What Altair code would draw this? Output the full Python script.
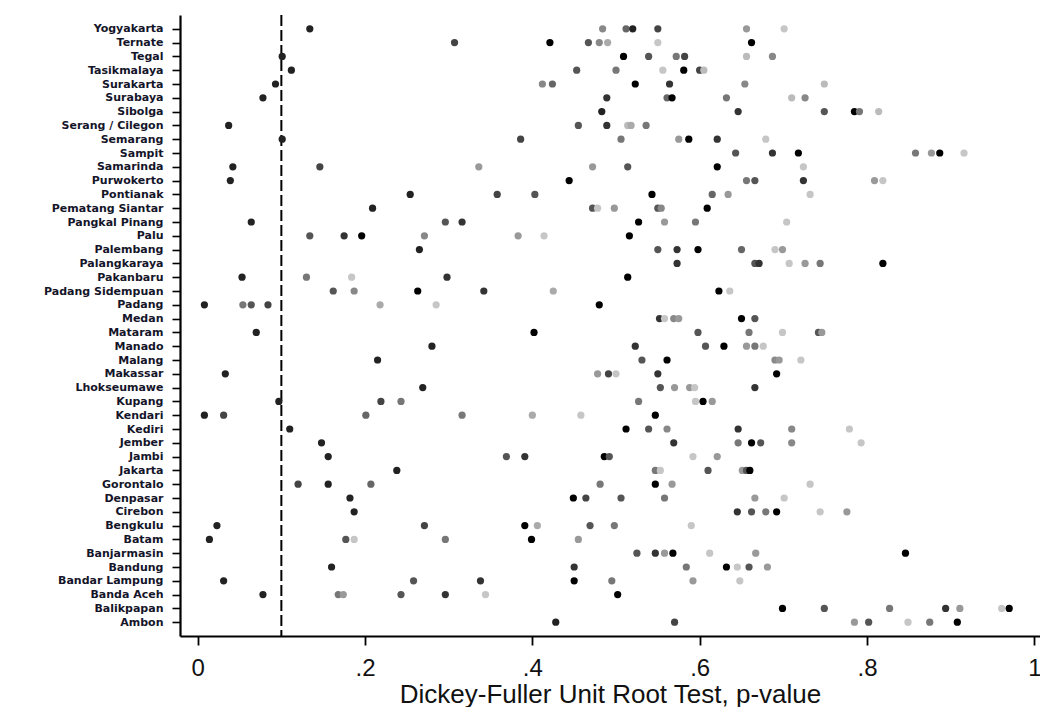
import altair as alt
import pandas as pd

cities = [
    "Yogyakarta", "Ternate", "Tegal", "Tasikmalaya", "Surakarta", "Surabaya",
    "Sibolga", "Serang / Cilegon", "Semarang", "Sampit", "Samarinda",
    "Purwokerto", "Pontianak", "Pematang Siantar", "Pangkal Pinang", "Palu",
    "Palembang", "Palangkaraya", "Pakanbaru", "Padang Sidempuan", "Padang",
    "Medan", "Mataram", "Manado", "Malang", "Makassar", "Lhokseumawe",
    "Kupang", "Kendari", "Kediri", "Jember", "Jambi", "Jakarta", "Gorontalo",
    "Denpasar", "Cirebon", "Bengkulu", "Batam", "Banjarmasin", "Bandung",
    "Bandar Lampung", "Banda Aceh", "Balikpapan", "Ambon",
]

# p-values per city (same order as cities)
pvalues = [
    [0.134, 0.484, 0.512, 0.520, 0.550, 0.656, 0.701],
    [0.307, 0.421, 0.467, 0.480, 0.490, 0.550, 0.662],
    [0.101, 0.509, 0.539, 0.572, 0.582, 0.656, 0.687],
    [0.112, 0.453, 0.500, 0.556, 0.581, 0.600, 0.605],
    [0.093, 0.412, 0.424, 0.523, 0.564, 0.654, 0.749],
    [0.078, 0.489, 0.561, 0.567, 0.632, 0.710, 0.726],
    [0.483, 0.646, 0.749, 0.785, 0.791, 0.814],
    [0.037, 0.455, 0.489, 0.514, 0.518, 0.536],
    [0.101, 0.386, 0.506, 0.575, 0.587, 0.621, 0.679],
    [0.643, 0.687, 0.718, 0.858, 0.877, 0.887, 0.916],
    [0.042, 0.146, 0.336, 0.472, 0.514, 0.621, 0.724],
    [0.039, 0.444, 0.656, 0.666, 0.724, 0.809, 0.819],
    [0.254, 0.358, 0.403, 0.543, 0.615, 0.634, 0.732],
    [0.209, 0.472, 0.478, 0.498, 0.550, 0.554, 0.609],
    [0.064, 0.296, 0.316, 0.527, 0.558, 0.595, 0.704],
    [0.134, 0.175, 0.196, 0.271, 0.383, 0.414, 0.516],
    [0.265, 0.550, 0.573, 0.598, 0.650, 0.690, 0.699],
    [0.573, 0.666, 0.671, 0.707, 0.726, 0.744, 0.819],
    [0.053, 0.130, 0.184, 0.298, 0.514],
    [0.162, 0.187, 0.263, 0.342, 0.425, 0.623, 0.636],
    [0.008, 0.054, 0.064, 0.084, 0.218, 0.285, 0.480],
    [0.552, 0.558, 0.569, 0.575, 0.650, 0.666],
    [0.070, 0.402, 0.598, 0.659, 0.699, 0.742, 0.746],
    [0.280, 0.523, 0.607, 0.629, 0.656, 0.666, 0.676],
    [0.215, 0.531, 0.561, 0.690, 0.695, 0.721],
    [0.033, 0.478, 0.491, 0.500, 0.550, 0.692],
    [0.269, 0.553, 0.570, 0.588, 0.594, 0.666],
    [0.097, 0.219, 0.243, 0.527, 0.595, 0.604, 0.615],
    [0.008, 0.031, 0.201, 0.316, 0.400, 0.458, 0.547],
    [0.110, 0.512, 0.539, 0.561, 0.646, 0.710, 0.779],
    [0.148, 0.569, 0.646, 0.662, 0.673, 0.710, 0.793],
    [0.156, 0.369, 0.391, 0.486, 0.492, 0.592, 0.621],
    [0.238, 0.547, 0.553, 0.610, 0.651, 0.656, 0.660],
    [0.120, 0.156, 0.207, 0.481, 0.547, 0.567, 0.732],
    [0.182, 0.449, 0.464, 0.506, 0.558, 0.666, 0.701],
    [0.187, 0.645, 0.662, 0.679, 0.692, 0.744, 0.776],
    [0.023, 0.271, 0.391, 0.406, 0.469, 0.498, 0.590],
    [0.014, 0.177, 0.187, 0.296, 0.399, 0.455],
    [0.525, 0.547, 0.558, 0.568, 0.612, 0.667, 0.846],
    [0.160, 0.450, 0.584, 0.632, 0.645, 0.659, 0.681],
    [0.031, 0.258, 0.338, 0.450, 0.495, 0.592, 0.648],
    [0.078, 0.168, 0.174, 0.243, 0.296, 0.344, 0.502],
    [0.699, 0.749, 0.827, 0.894, 0.911, 0.961, 0.970],
    [0.428, 0.570, 0.785, 0.802, 0.849, 0.875, 0.908],
]

# grey level of each point (0 = black ... 11 = lightest grey)
shades = [
    [1, 7, 5, 1, 3, 8, 11],
    [3, 0, 4, 7, 9, 11, 0],
    [1, 0, 4, 6, 3, 10, 7],
    [1, 4, 6, 11, 0, 3, 10],
    [1, 7, 5, 0, 2, 7, 10],
    [1, 2, 5, 0, 6, 10, 7],
    [1, 2, 4, 0, 6, 10],
    [1, 4, 2, 10, 9, 6],
    [1, 3, 6, 8, 0, 2, 11],
    [4, 2, 0, 6, 8, 0, 11],
    [1, 3, 8, 8, 4, 0, 11],
    [1, 0, 6, 4, 2, 8, 11],
    [1, 3, 4, 0, 5, 8, 11],
    [1, 4, 11, 8, 4, 7, 0],
    [1, 4, 2, 0, 8, 6, 11],
    [4, 2, 0, 7, 8, 11, 0],
    [1, 4, 2, 0, 5, 11, 8],
    [2, 4, 2, 11, 8, 6, 0],
    [1, 6, 11, 2, 0],
    [4, 7, 0, 2, 9, 0, 11],
    [1, 6, 4, 3, 9, 11, 0],
    [2, 11, 7, 8, 0, 4],
    [1, 0, 4, 6, 11, 4, 8],
    [1, 2, 4, 0, 8, 6, 11],
    [1, 4, 0, 7, 8, 11],
    [1, 8, 3, 11, 2, 0],
    [1, 4, 8, 8, 11, 2],
    [1, 3, 6, 6, 11, 0, 8],
    [1, 3, 5, 6, 9, 11, 0],
    [1, 0, 4, 7, 2, 7, 11],
    [1, 2, 6, 0, 4, 7, 11],
    [1, 4, 2, 0, 4, 11, 8],
    [1, 6, 11, 4, 8, 4, 0],
    [3, 1, 5, 6, 0, 8, 11],
    [1, 0, 3, 4, 6, 8, 11],
    [1, 2, 4, 6, 0, 11, 8],
    [1, 3, 0, 9, 4, 6, 11],
    [1, 4, 11, 6, 0, 8],
    [4, 2, 8, 0, 11, 8, 0],
    [1, 2, 6, 0, 11, 4, 8],
    [1, 4, 2, 0, 6, 8, 11],
    [1, 6, 8, 4, 2, 11, 0],
    [0, 4, 6, 2, 8, 11, 0],
    [1, 3, 8, 4, 11, 6, 0],
]

x_ticks = [0, 0.2, 0.4, 0.6, 0.8, 1.0]
threshold = 0.1

rows = []
for city, vals, shs in zip(cities, pvalues, shades):
    for v, s in zip(vals, shs):
        rows.append({"city": city, "p": v, "shade": s})
df = pd.DataFrame(rows)

grey_levels = ["#000000", "#222222", "#333333", "#444444", "#555555", "#666666",
               "#777777", "#888888", "#999999", "#aaaaaa", "#bbbbbb", "#c6c6c6"]

xscale = alt.Scale(domain=[-0.02116, 1.00681], nice=False, zero=False)

points = alt.Chart(df).mark_circle(size=52, opacity=1).encode(
    x=alt.X("p:Q", scale=xscale,
            title="Dickey-Fuller Unit Root Test, p-value",
            axis=alt.Axis(values=x_ticks, grid=False,
                          labelExpr="datum.value == 0 ? '0' : datum.value == 1 ? '1' : replace(format(datum.value, '.1f'), '0.', '.')",
                          labelFont="Liberation Sans", labelFontSize=24,
                          labelColor="#111111", labelPadding=11,
                          titleFont="Liberation Sans", titleFontSize=26,
                          titleFontWeight="normal", titleColor="#111111",
                          titlePadding=1,
                          tickSize=9, tickWidth=1.8, tickColor="black",
                          domainColor="black", domainWidth=2.2)),
    y=alt.Y("city:N", sort=cities, title=None,
            scale=alt.Scale(type="point", padding=1.07),
            axis=alt.Axis(labelFont="DejaVu Sans", labelFontSize=11,
                          labelFontWeight="bold", labelColor="#15152a",
                          labelPadding=9, tickSize=8, tickWidth=1.6,
                          tickColor="black", domainColor="black",
                          domainWidth=2.2, grid=False, labelOverlap=False)),
    color=alt.Color("shade:O", scale=alt.Scale(domain=list(range(12)), range=grey_levels),
                    legend=None),
)

rule = alt.Chart(pd.DataFrame({"x": [threshold]})).mark_rule(
    color="black", strokeWidth=2, strokeDash=[11, 4]
).encode(x=alt.X("x:Q", scale=xscale))

chart = alt.layer(rule, points).properties(
    width=860, height=621,
    autosize=alt.AutoSizeParams(type="none"),
    padding={"left": 180, "top": 15, "right": 0, "bottom": 71},
    background="white",
).configure_view(stroke=None)

chart.save("out.html", embed_options={"renderer": "svg", "actions": False})
